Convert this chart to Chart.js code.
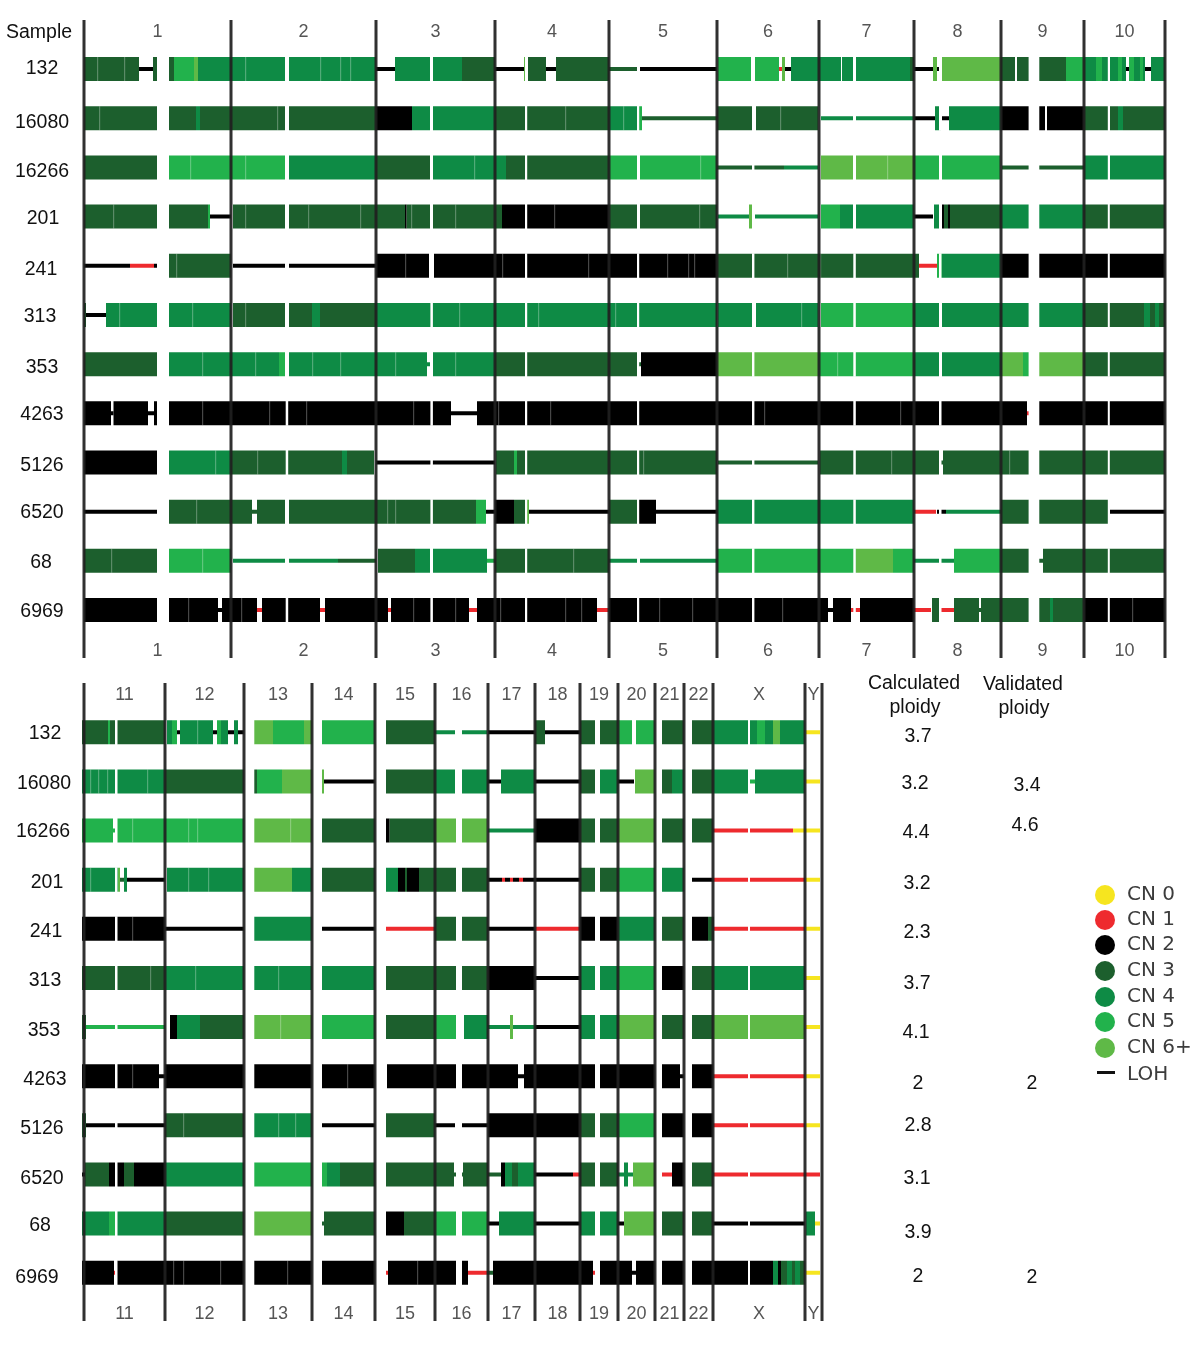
<!DOCTYPE html>
<html>
<head>
<meta charset="utf-8">
<title>Copy number by sample</title>
<script src="https://cdn.jsdelivr.net/npm/chart.js@4/dist/chart.umd.min.js"></script>
<style>
    html, body { margin: 0; padding: 0; background: #fff; }
    #page { position: relative; width: 1200px; height: 1346px; overflow: hidden; }
    canvas { position: absolute; left: 0; filter: blur(0.7px); }
    .lbl { position: absolute; transform: translate(-50%, -50%); white-space: nowrap;
           font: 19.5px "Liberation Sans", Arial, sans-serif; color: #111; }
    .swatch { position: absolute; width: 20px; height: 20px; border-radius: 50%; filter: blur(0.5px); }
    .lohkey { position: absolute; left: 1097px; width: 18px; height: 3px; background: #111; }
    .legtxt { position: absolute; left: 1127px; transform: translateY(-50%); white-space: nowrap;
              font: 20px "DejaVu Sans", sans-serif; color: #3c3c3c; filter: blur(0.4px); }
</style>
</head>
<body>
<div id="page">
    <canvas id="topPanel" width="1200" height="668" style="top:0"></canvas>
    <canvas id="bottomPanel" width="1200" height="676" style="top:670px"></canvas>
</div>
<script>
// 1. Data. Positions are genome bins along each panel
// (a bin is about 1.7 Mb), segments are [start, end, copy number] and a 4th
// element of 1 marks a loss of heterozygosity stretch (the thin lines).
const samples = ["132", "16080", "16266", "201", "241", "313", "353", "4263", "5126", "6520", "68", "6969"];
const calcPloidy = ["3.7", "3.2", "4.4", "3.2", "2.3", "3.7", "4.1", "2", "2.8", "3.1", "3.9", "2"];
const validPloidy = ["3.4", "4.6", "2", "2"];
const cnNames = ["CN 0", "CN 1", "CN 2", "CN 3", "CN 4", "CN 5", "CN 6+"];

const topChrLabels = ["1", "2", "3", "4", "5", "6", "7", "8", "9", "10"];
const topChrEdges = [0, 147, 292, 411, 525, 633, 735, 830, 917, 1000, 1081];
const topGaps = [[73, 85], [201.7, 204.2], [346.4, 348.9], [441, 443.2], [553, 555.2], [668, 670.4], [769.3, 771.8], [855, 857.5], [944.6, 955.3], [1023.8, 1025.8]];

const bottomChrLabels = ["11", "12", "13", "14", "15", "16", "17", "18", "19", "20", "21", "22", "X", "Y"];
const bottomChrEdges = [2, 83, 162, 230, 293, 353, 406, 453, 498, 536, 573, 602, 631, 723, 740];
const bottomGaps = [[33, 35.5], [162, 172.3], [230, 240], [293, 304], [374, 380], [513, 517.7], [573, 580], [602, 610], [666, 668]];

// top panel, chromosomes 1 to 10
const top132 = [[0, 55, 3], [55, 69, 2, 1], [69, 73, 3], [85, 90, 3], [90, 110, 5], [110, 114, 6], [114, 147, 4], [147, 201, 4], [205, 292, 4], [292, 311, 2, 1], [311, 346, 4], [349, 378, 4], [378, 411, 3], [411, 440, 2, 1], [440, 442, 6], [444, 462, 3], [462, 472, 2, 1], [472, 525, 3], [525, 553, 3, 1], [556, 633, 2, 1], [634, 667, 5], [671, 695, 5], [695, 698, 1, 1], [698, 701, 6], [701, 707, 2, 1], [707, 757, 4], [758, 769, 4], [772, 826, 4], [826, 830, 3], [830, 849, 2, 1], [849, 853, 6], [853, 856, 2, 1], [858, 917, 6], [917, 931, 3], [933, 945, 3], [955, 982, 3], [982, 1000, 5], [1000, 1012, 4], [1012, 1018, 5], [1018, 1024, 4], [1026, 1034, 4], [1034, 1038, 5], [1038, 1042, 4], [1042, 1045, 2, 1], [1045, 1050, 5], [1050, 1056, 4], [1056, 1059, 5], [1059, 1061, 4], [1061, 1067, 2, 1], [1067, 1081, 4]];
const top16080 = [[0, 73, 3], [85, 112, 3], [112, 116, 4], [116, 201, 3], [205, 292, 3], [292, 328, 2], [328, 346, 4], [349, 411, 4], [411, 441, 3], [443, 525, 3], [525, 553, 4], [555, 558, 5], [558, 633, 3, 1], [633, 668, 3], [672, 734, 3], [737, 769, 4, 1], [772, 830, 4, 1], [830, 851, 2, 1], [851, 857, 4], [858, 865, 2, 1], [865, 917, 4], [917, 945, 2], [955, 961, 2], [963, 1000, 2], [1000, 1024, 3], [1026, 1034, 3], [1034, 1039, 4], [1039, 1081, 3]];
const top16266 = [[0, 73, 3], [85, 201, 5], [205, 292, 4], [292, 346, 3], [349, 422, 4], [422, 441, 3], [443, 525, 3], [525, 553, 5], [556, 633, 5], [633, 700, 3, 1], [700, 734, 4, 1], [737, 769, 6], [772, 830, 6], [830, 855, 5], [858, 916, 5], [918, 945, 3, 1], [955, 1000, 3, 1], [1000, 1024, 4], [1026, 1081, 4]];
const top201 = [[0, 73, 3], [85, 124, 3], [124, 126, 5], [126, 147, 2, 1], [149, 201, 3], [205, 292, 3], [292, 321, 3], [321, 322.5, 2], [322.5, 346, 3], [349, 411, 3], [411, 418, 3], [418, 441, 2], [443, 525, 2], [525, 553, 3], [556, 633, 3], [634, 665, 4, 1], [665, 668, 6], [671, 734, 4, 1], [737, 756, 5], [756, 769, 4], [772, 830, 4], [830, 849, 2, 1], [850, 857, 4], [858, 860, 2], [860, 864, 3], [864, 866, 2], [866, 917, 3], [917, 945, 4], [955, 1000, 4], [1000, 1081, 3]];
const top241 = [[0, 46, 2, 1], [46, 70, 1, 1], [70, 73, 2, 1], [85, 147, 3], [149, 201, 2, 1], [205, 292, 2, 1], [292, 345, 2], [350, 525, 2], [525, 633, 2], [633, 835, 3], [835, 853, 1, 1], [853, 858, 5], [858, 917, 4], [917, 945, 2], [955, 1081, 2]];
const top313 = [[0, 2, 3], [2, 22, 2, 1], [22, 73, 4], [85, 147, 4], [149, 201, 3], [205, 228, 3], [228, 236, 4], [236, 292, 3], [292, 525, 4], [525, 633, 4], [634, 668, 4], [672, 734, 4], [737, 830, 5], [830, 855, 4], [858, 945, 4], [955, 1000, 4], [1000, 1060, 3], [1060, 1066, 4], [1066, 1071, 3], [1071, 1075, 4], [1075, 1081, 3]];
const top353 = [[0, 73, 3], [85, 195, 4], [195, 201, 5], [205, 343, 4], [343, 346, 4, 1], [349, 411, 4], [411, 441, 3], [443, 525, 3], [525, 553, 3], [553, 557, 3, 1], [557, 633, 2], [633, 734, 6], [734, 830, 5], [830, 855, 4], [858, 918, 4], [918, 939, 6], [939, 945, 5], [955, 1000, 6], [1000, 1081, 3]];
const top4263 = [[0, 27, 2], [27, 29.5, 2, 1], [29.5, 64, 2], [64, 70, 2, 1], [70, 73, 2], [85, 367, 2], [367, 393, 2, 1], [393, 525, 2], [525, 943, 2], [943, 945, 1, 1], [955, 1081, 2]];
const top5126 = [[0, 73, 2], [85, 147, 4], [147, 258, 3], [258, 263, 4], [263, 290, 3], [292, 411, 2, 1], [412, 430, 3], [430, 433, 5], [433, 441, 3], [443, 525, 3], [525, 633, 3], [634, 734, 3, 1], [736, 855, 3], [855, 859, 3, 1], [859, 945, 3], [955, 1081, 3]];
const top6520 = [[0, 73, 2, 1], [85, 168, 3], [168, 173, 3, 1], [173, 201, 3], [205, 392, 3], [392, 402, 5], [402, 411, 2, 1], [411, 430, 2], [430, 441, 3], [442, 445, 6], [445, 525, 2, 1], [525, 553, 3], [555, 572, 2], [572, 633, 2, 1], [633, 830, 4], [830, 852, 1, 1], [853, 862, 2, 1], [862, 917, 4, 1], [917, 945, 3], [955, 1024, 3], [1026, 1081, 2, 1]];
const top68 = [[0, 73, 3], [85, 147, 5], [149, 201, 4, 1], [205, 254, 4, 1], [254, 292, 3, 1], [294, 331, 3], [331, 346, 4], [349, 403, 4], [403, 411, 5, 1], [411, 525, 3], [525, 553, 4, 1], [556, 633, 4, 1], [633, 772, 5], [772, 809, 6], [809, 830, 5], [830, 870, 4, 1], [870, 917, 5], [917, 945, 3], [955, 959, 3, 1], [959, 1081, 3]];
const top6969 = [[0, 73, 2], [85, 134, 2], [134, 138, 2, 1], [138, 173, 2], [173, 178, 1, 1], [178, 236, 2], [236, 241, 1, 1], [241, 304, 2], [304, 307, 1, 1], [307, 385, 2], [385, 393, 1, 1], [393, 513, 2], [513, 525, 1, 1], [525, 744, 2], [744, 749, 2, 1], [749, 767, 2], [767, 776, 1, 1], [776, 830, 2], [830, 847, 1, 1], [848, 856, 3], [856, 870, 1, 1], [870, 895, 3], [895, 897, 3, 1], [897, 945, 3], [955, 966, 3], [966, 969, 4], [969, 1000, 3], [1000, 1081, 2]];

// bottom panel, chromosomes 11 to Y
const low132 = [[0, 26, 3], [26, 28, 5], [28, 33, 3], [35, 83, 3], [85, 90, 4], [90, 95, 5], [95, 98, 2, 1], [98, 131, 4], [131, 135, 2, 1], [135, 139, 5], [139, 146, 4], [146, 152, 2, 1], [152, 156, 4], [156, 162, 2, 1], [172, 191, 6], [191, 222, 5], [222, 230, 6], [240, 293, 5], [304, 353, 3], [353, 373, 4, 1], [380, 405, 4, 1], [406, 453, 2, 1], [453, 463, 3], [463, 498, 2, 1], [498, 513, 3], [518, 536, 3], [536, 550, 5], [554, 573, 5], [580, 602, 3], [610, 631, 3], [631, 666, 4], [668, 675, 4], [675, 683, 5], [683, 691, 4], [691, 698, 6], [698, 711, 4], [711, 723, 4], [724, 738, 0, 1]];
const low16080 = [[0, 33, 4], [35, 83, 4], [83, 162, 3], [172, 175, 3], [175, 200, 5], [200, 230, 6], [240, 242, 6], [242, 293, 2, 1], [304, 353, 3], [353, 373, 4], [380, 406, 4], [406, 419, 2, 1], [419, 453, 4], [453, 498, 2, 1], [498, 513, 3], [518, 536, 4], [536, 552, 2, 1], [553, 573, 6], [580, 590, 3], [590, 602, 4], [610, 631, 3], [631, 666, 4], [668, 673, 5, 1], [673, 723, 4], [724, 738, 0, 1]];
const low16266 = [[0, 31, 5], [31, 35, 5, 1], [35, 162, 5], [172, 230, 6], [240, 293, 3], [304, 307.5, 2], [307.5, 353, 3], [353, 374, 6], [380, 405, 6], [406, 453, 4, 1], [453, 498, 2], [498, 513, 3], [518, 536, 3], [536, 573, 6], [580, 602, 3], [610, 631, 3], [631, 711, 1, 1], [711, 738, 0, 1]];
const low201 = [[0, 36, 4], [36, 38, 6], [38, 42, 3, 1], [42, 45, 4], [45, 83, 2, 1], [85, 162, 4], [172, 210, 6], [210, 230, 4], [240, 251, 3], [251, 293, 3], [304, 316, 4], [316, 323, 2], [323, 325, 3], [325, 337, 2], [337, 353, 3], [353, 374, 3], [380, 406, 3], [406, 420, 2, 1], [420, 423, 1, 1], [423, 428, 2, 1], [428, 431, 1, 1], [431, 437, 2, 1], [437, 441, 1, 1], [441, 498, 2, 1], [498, 513, 3], [518, 536, 3], [536, 573, 5], [580, 602, 4], [610, 631, 2, 1], [631, 723, 1, 1], [724, 738, 0, 1]];
const low241 = [[0, 83, 2], [83, 162, 2, 1], [172, 230, 4], [240, 293, 2, 1], [304, 353, 1, 1], [353, 374, 3], [380, 406, 3], [406, 453, 2, 1], [453, 498, 1, 1], [498, 513, 2], [518, 536, 2], [536, 573, 4], [580, 602, 3], [610, 626, 2], [626, 632, 3], [632, 723, 1, 1], [724, 738, 0, 1]];
const low313 = [[0, 83, 3], [83, 162, 4], [172, 230, 4], [240, 293, 4], [304, 353, 3], [353, 374, 3], [380, 406, 3], [406, 453, 2], [453, 498, 2, 1], [498, 513, 4], [518, 536, 4], [536, 573, 5], [580, 602, 2], [610, 631, 3], [631, 723, 4], [724, 738, 0, 1]];
const low353 = [[0, 4, 3], [4, 83, 5, 1], [88, 95, 2], [95, 118, 4], [118, 162, 3], [172, 230, 6], [240, 293, 5], [304, 353, 3], [353, 374, 5], [382, 406, 4], [406, 428, 4, 1], [428, 431, 6], [431, 453, 4, 1], [453, 498, 2, 1], [498, 513, 4], [518, 536, 4], [536, 573, 6], [580, 602, 3], [610, 631, 3], [631, 723, 6], [724, 738, 0, 1]];
const low4263 = [[0, 77, 2], [77, 83, 2, 1], [83, 162, 2], [172, 230, 2], [240, 293, 2], [305, 353, 2], [353, 374, 2], [380, 436, 2], [436, 442, 2, 1], [442, 513, 2], [518, 573, 2], [580, 598, 2], [598, 602, 2, 1], [610, 631, 2], [631, 723, 1, 1], [724, 738, 0, 1]];
const low5126 = [[0, 4, 3], [4, 83, 2, 1], [83, 162, 3], [172, 230, 4], [240, 293, 2, 1], [304, 353, 3], [353, 373, 2, 1], [380, 406, 2, 1], [406, 498, 2], [498, 513, 3], [518, 536, 3], [536, 573, 5], [580, 602, 2], [610, 631, 2], [631, 723, 1, 1], [724, 738, 0, 1]];
const low6520 = [[0, 3, 2, 1], [3, 27, 3], [27, 33, 2], [35, 42, 2], [42, 52, 3], [52, 83, 2], [83, 162, 4], [172, 230, 5], [240, 245, 5], [245, 258, 4], [258, 293, 3], [304, 353, 3], [353, 372, 3], [372, 381, 3, 1], [381, 406, 3], [406, 419, 3, 1], [419, 423, 2], [423, 430, 4], [430, 436, 3], [436, 443, 4], [443, 453, 4], [453, 491, 2, 1], [491, 498, 1, 1], [498, 513, 3], [518, 536, 3], [536, 542, 4, 1], [542, 546, 4], [546, 551, 4, 1], [551, 573, 6], [580, 590, 1, 1], [590, 602, 2], [610, 631, 3], [631, 738, 1, 1]];
const low68 = [[0, 27, 4], [27, 33, 5], [35, 83, 4], [83, 162, 3], [172, 230, 6], [240, 242, 3, 1], [242, 293, 3], [304, 322, 2], [322, 353, 3], [353, 374, 5], [380, 406, 5], [406, 417, 2, 1], [417, 453, 4], [453, 498, 2, 1], [498, 513, 4], [518, 536, 4], [536, 542, 2, 1], [542, 573, 6], [580, 602, 3], [610, 631, 3], [631, 723, 2, 1], [724, 733, 4], [733, 738, 0, 1]];
const low6969 = [[0, 32, 2], [32, 35, 1, 1], [35, 162, 2], [172, 230, 2], [240, 293, 2], [304, 306, 1, 1], [306, 353, 2], [353, 374, 2], [380, 386, 2], [386, 405, 1, 1], [405, 411, 3, 1], [411, 511, 2], [511, 513, 1, 1], [518, 550, 2], [550, 554, 2, 1], [554, 573, 2], [580, 602, 2], [610, 691, 2], [691, 696, 4], [696, 699, 2], [699, 705, 3], [705, 710, 4], [710, 713, 3], [713, 718, 4], [718, 723, 3], [724, 738, 0, 1]];

const topRows = [top132, top16080, top16266, top201, top241, top313, top353, top4263, top5126, top6520, top68, top6969];
const bottomRows = [low132, low16080, low16266, low201, low241, low313, low353, low4263, low5126, low6520, low68, low6969];

// faint pale streaks inside the bars, one list of bins per sample
const topStreaks = [[13, 40, 161, 236, 256, 266], [15, 193, 481, 539, 696], [106, 161, 390, 616, 803], [29, 161, 224, 276, 327, 371, 470, 615], [92, 321, 418, 504, 583, 604, 610, 703, 736], [35, 108, 161, 375, 454, 531, 717], [118, 171, 228, 256, 311, 371, 753], [118, 185, 222, 329, 414, 466, 680, 816], [131, 173, 559, 807, 925], [112, 303, 311], [27, 118, 489], [104, 157, 329, 371, 416, 481, 497, 575, 608, 698, 1048]];
const bottomStreaks = [[115], [8, 16, 25, 65], [50, 106, 115, 208], [8, 106, 126], [50], [68, 113, 196], [198], [50, 265], [101, 196, 213], [], [], [91, 101, 138, 205, 335]];

// 2. Colours and layout of the page
const cnColors = ["#f6e51f", "#ee2a2e", "#000000", "#1c5f2d", "#0e8b45", "#22b24c", "#5fb947"];
const LINE_COLOR = "rgba(32,32,32,0.92)";

function midpoints(edges) {
    return edges.slice(0, -1).map((e, i) => (e + edges[i + 1]) / 2);
}

// Thick bars for the copy number segments, thin ones for LOH, white on top for the gaps
function buildDatasets(rows, gaps, streaks) {
    const sets = [];
    sets.push({
        data: samples.flatMap(s => gaps.map(g => ({ x: g, y: s }))),
        backgroundColor: "#ffffff", barThickness: 25, grouped: false, order: 0
    });
    sets.push({
        data: samples.flatMap((s, r) => streaks[r].map(v => ({ x: [v, v + 1.2], y: s }))),
        backgroundColor: "rgba(255,255,255,0.28)", barThickness: 24, grouped: false, order: 0.5
    });
    cnColors.forEach((color, cn) => {
        [0, 1].forEach(thin => {
            const points = [];
            rows.forEach((row, r) => {
                row.filter(seg => seg[2] === cn && (seg[3] || 0) === thin)
                   .forEach(seg => points.push({ x: [seg[0], seg[1]], y: samples[r] }));
            });
            sets.push({
                data: points,
                backgroundColor: color,
                barThickness: thin ? 4 : 24,
                grouped: false,
                order: thin ? 1 : 2
            });
        });
    });
    return sets;
}

// Chromosome borders are drawn over the bars
const chrLines = {
    id: "chrLines",
    afterDatasetsDraw(chart, args, opts) {
        const { ctx, scales } = chart;
        ctx.save();
        ctx.strokeStyle = LINE_COLOR;
        ctx.lineWidth = 3;
        opts.edges.forEach(v => {
            const px = scales.x.getPixelForValue(v);
            ctx.beginPath();
            ctx.moveTo(px, opts.from);
            ctx.lineTo(px, opts.to);
            ctx.stroke();
        });
        ctx.restore();
    }
};

function makePanel(id, cfg) {
    const mids = midpoints(cfg.edges);
    const xTicks = {
        autoSkip: false, maxRotation: 0, minRotation: 0, color: "#555",
        font: { family: "Liberation Sans", size: 18 },
        callback: (v, i) => cfg.labels[i]
    };
    const setMids = scale => { scale.ticks = mids.map(v => ({ value: v })); };
    return new Chart(document.getElementById(id), {
        type: "bar",
        data: { labels: samples, datasets: buildDatasets(cfg.rows, cfg.gaps, cfg.streaks) },
        plugins: [chrLines],
        options: {
            indexAxis: "y",
            responsive: false,
            animation: false,
            devicePixelRatio: 1,
            layout: { padding: { left: cfg.left, right: cfg.right, top: 0, bottom: 0 } },
            elements: { bar: { borderWidth: 0, inflateAmount: 0 } },
            plugins: {
                legend: { display: false },
                tooltip: { enabled: false },
                chrLines: { edges: cfg.edges, from: cfg.lineFrom, to: cfg.lineTo }
            },
            scales: {
                y: { type: "category", display: false, offset: true, grid: { display: false } },
                x: {
                    type: "linear", position: "bottom", min: 0, max: cfg.xMax,
                    grid: { display: false, drawTicks: false }, border: { display: false },
                    ticks: { ...xTicks, padding: cfg.padBottom },
                    afterBuildTicks: setMids,
                    afterFit: s => { s.height = cfg.axisBottom; }
                },
                xTop: {
                    type: "linear", position: "top", min: 0, max: cfg.xMax,
                    grid: { display: false, drawTicks: false }, border: { display: false },
                    ticks: { ...xTicks, padding: cfg.padTop },
                    afterBuildTicks: setMids,
                    afterFit: s => { s.height = cfg.axisTop; }
                }
            }
        }
    });
}

makePanel("topPanel", {
    rows: topRows, gaps: topGaps, streaks: topStreaks, edges: topChrEdges, labels: topChrLabels,
    xMax: 1082, left: 84, right: 34, axisTop: 44.5, axisBottom: 33.4,
    padTop: 2, padBottom: 6, lineFrom: 20, lineTo: 658
});
makePanel("bottomPanel", {
    rows: bottomRows, gaps: bottomGaps, streaks: bottomStreaks, edges: bottomChrEdges, labels: bottomChrLabels,
    xMax: 740, left: 82, right: 378, axisTop: 37.8, axisBottom: 48.8,
    padTop: 2, padBottom: 6, lineFrom: 13, lineTo: 651
});

// 3. Side text: sample names, ploidy columns and the key
const page = document.getElementById("page");
function addLabel(text, x, y) {
    const el = document.createElement("div");
    el.className = "lbl";
    el.innerText = text;
    el.style.left = x + "px";
    el.style.top = y + "px";
    page.appendChild(el);
}

const topNameX = [42, 42, 42, 43, 41, 40, 42, 42, 42, 42, 41, 42];
const topNameY = [67, 121, 170, 217, 268, 315, 366, 413, 464, 511, 561, 610];
const lowNameX = [45, 44, 43, 47, 46, 45, 44, 45, 42, 42, 40, 37];
const lowNameY = [732, 782, 830, 881, 930, 979, 1029, 1078, 1127, 1177, 1224, 1276];
const calcX = [918, 915, 916, 917, 917, 917, 916, 918, 918, 917, 918, 918];
const calcY = [735, 782, 831, 882, 931, 982, 1031, 1082, 1124, 1177, 1231, 1275];
const validX = [1027, 1025, 1032, 1032];
const validY = [784, 824, 1082, 1276];

addLabel("Sample", 39, 31);
samples.forEach((s, i) => {
    addLabel(s, topNameX[i], topNameY[i]);
    addLabel(s, lowNameX[i], lowNameY[i]);
    addLabel(calcPloidy[i], calcX[i], calcY[i]);
});
validPloidy.forEach((p, i) => addLabel(p, validX[i], validY[i]));
addLabel("Calculated", 914, 682);
addLabel("ploidy", 915, 706);
addLabel("Validated", 1023, 683);
addLabel("ploidy", 1024, 707);

const keyY = [895, 920, 945, 971, 997, 1022, 1048];
cnNames.forEach((name, i) => {
    const dot = document.createElement("div");
    dot.className = "swatch";
    dot.style.left = "1095px";
    dot.style.top = (keyY[i] - 10) + "px";
    dot.style.background = cnColors[i];
    page.appendChild(dot);
    const txt = document.createElement("div");
    txt.className = "legtxt";
    txt.innerText = name;
    txt.style.top = (keyY[i] - 2) + "px";
    page.appendChild(txt);
});
const lohKey = document.createElement("div");
lohKey.className = "lohkey";
lohKey.style.top = "1071px";
page.appendChild(lohKey);
const lohTxt = document.createElement("div");
lohTxt.className = "legtxt";
lohTxt.innerText = "LOH";
lohTxt.style.top = "1073px";
page.appendChild(lohTxt);
</script>
</body>
</html>
